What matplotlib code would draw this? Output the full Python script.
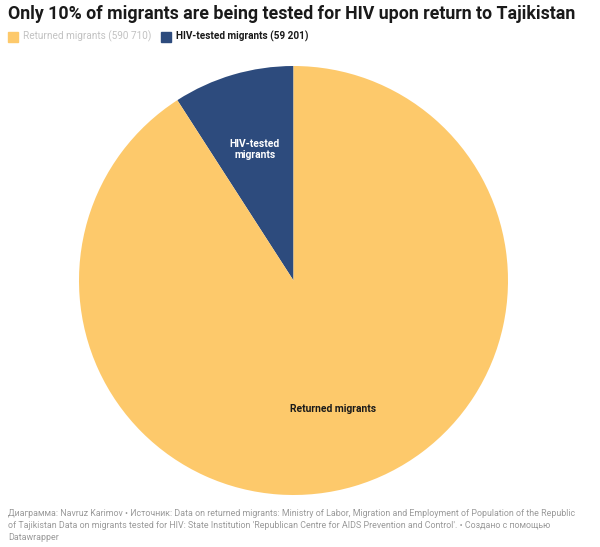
import matplotlib
matplotlib.use("Agg")
import matplotlib.pyplot as plt
from matplotlib.patches import Rectangle

YELLOW, NAVY = "#fdc96b", "#2d4b7d"
INK, MUTED, FAINT = "#1a1a1a", "#9a9a9a", "#c2c2c2"

labels = ["HIV-tested migrants", "Returned migrants"]
values = [59201, 590710]
colors = [NAVY, YELLOW]
legend_labels = ["Returned migrants (590 710)", "HIV-tested migrants (59 201)"]

plt.rcParams["font.family"] = ["Roboto", "DejaVu Sans"]

fig = plt.figure(figsize=(6.0, 5.47), dpi=100)
fig.patch.set_facecolor("white")

ax = fig.add_axes([79 / 600, 52 / 547, 429 / 600, 429 / 547])
ax.pie(values, colors=colors, startangle=90, counterclock=True, radius=1,
       wedgeprops=dict(linewidth=0))
ax.set_xlim(-1, 1)
ax.set_ylim(-1, 1)
ax.set_aspect("equal")
ax.axis("off")

ax.text(-0.18, 0.61, "HIV-tested\nmigrants", color="white", fontsize=7.4,
        fontweight="bold", ha="center", va="center", linespacing=1.2)
ax.text(0.185, -0.60, "Returned migrants", color=INK, fontsize=7.4,
        fontweight="bold", ha="center", va="center")

fig.text(8 / 600, 1 - 14 / 547, "Only 10% of migrants are being tested for HIV upon return to Tajikistan",
         fontsize=12.8, fontweight="bold", color=INK, va="center", ha="left")

# legend
fig.patches.append(Rectangle((8 / 600, 1 - 42 / 547), 10 / 600, 10 / 547,
                             transform=fig.transFigure, color=YELLOW))
fig.text(23 / 600, 1 - 36.5 / 547, legend_labels[0], fontsize=7.2, color=FAINT, va="center")
fig.patches.append(Rectangle((161 / 600, 1 - 42 / 547), 10 / 600, 10 / 547,
                             transform=fig.transFigure, color=NAVY))
fig.text(176 / 600, 1 - 36.5 / 547, legend_labels[1], fontsize=7.2, color=INK,
         fontweight="bold", va="center")

footer = ("Диаграмма: Navruz Karimov • Источник: Data on returned migrants: Ministry of Labor, Migration and Employment of Population of the Republic\n"
          "of Tajikistan Data on migrants tested for HIV: State Institution 'Republican Centre for AIDS Prevention and Control'. • Создано с помощью\n"
          "Datawrapper")
fig.text(8 / 600, 1 - 509 / 547, footer, fontsize=6.4, color=MUTED, va="top", ha="left",
         linespacing=1.45)

fig.savefig("out.png", dpi=100)
